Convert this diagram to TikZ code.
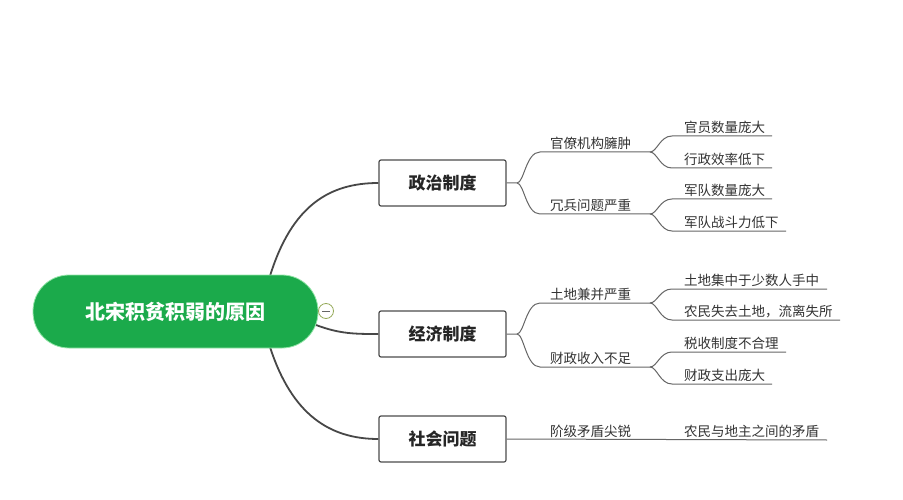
\documentclass[tikz,border=0pt]{standalone}
\usepackage{fontspec}
\setmainfont{Noto Sans CJK SC}
\begin{document}
\begin{tikzpicture}[x=1pt,y=-1pt,
  conn/.style={draw=black!72,line width=1.8pt},
  thin/.style={draw=black!60,line width=1pt},
  branch/.style={draw=black!70,line width=1.2pt,rounded corners=2pt,fill=white,minimum width=127pt,minimum height=46pt,font=\fontsize{17}{20}\selectfont\bfseries,text=black!85},
  leaf/.style={anchor=south west,inner sep=2pt,font=\fontsize{13.5}{16}\selectfont,text=black!80}]
\useasboundingbox[fill=white] (0,0) rectangle (903,500);
% connectors root to branches
\coordinate (r1) at (270,276);
\coordinate (r2) at (316,325);
\coordinate (r3) at (270,347);
\node[branch] (b1) at (442.5,183) {政治制度};
\node[branch] (b2) at (442.5,334) {经济制度};
\node[branch] (b3) at (442.5,439) {社会问题};
\draw[conn] (r1) .. controls (292,205) and (330,183) .. (b1.west);
\draw[conn] (r2) .. controls (340,334) and (355,334) .. (b2.west);
\draw[conn] (r3) .. controls (292,415) and (330,439) .. (b3.west);
\node[fill={rgb,255:red,27;green,170;blue,75},draw={rgb,255:red,150;green,230;blue,170},line width=0.8pt,rounded corners=36pt,minimum width=285pt,minimum height=73pt,text=white,font=\fontsize{20}{24}\selectfont\bfseries] (root) at (175.5,311.5) {北宋积贫积弱的原因};
\node[circle,draw={rgb,255:red,150;green,170;blue,90},fill=white,line width=0.8pt,minimum size=15pt,inner sep=0pt] (col) at (326,311) {};
\draw[black!60,line width=0.8pt] (col.center)+(-4,0) -- +(4,0);
% level 2
\node[leaf] (p1) at (548,152) {官僚机构臃肿};
\node[leaf] (p2) at (548,214) {冗兵问题严重};
\node[leaf] (e1) at (548,303) {土地兼并严重};
\node[leaf] (e2) at (548,367) {财政收入不足};
\node[leaf] (s1) at (548,440) {阶级矛盾尖锐};
% level 3
\node[leaf] (p11) at (682,136) {官员数量庞大};
\node[leaf] (p12) at (682,168) {行政效率低下};
\node[leaf] (p21) at (682,199) {军队数量庞大};
\node[leaf] (p22) at (682,231) {军队战斗力低下};
\node[leaf] (e11) at (682,289) {土地集中于少数人手中};
\node[leaf] (e12) at (682,320) {农民失去土地，流离失所};
\node[leaf] (e21) at (682,352) {税收制度不合理};
\node[leaf] (e22) at (682,384) {财政支出庞大};
\node[leaf] (s11) at (682,440) {农民与地主之间的矛盾};
% forks from branches
\foreach \b/\u/\d/\y/\ya/\yb in {b1/p1/p2/183/152/214, b2/e1/e2/334/303/367}{
  \draw[thin] (\b.east) -- (517,\y) .. controls (524,\y) and (526,\ya) .. (540,\ya) -- (650,\ya);
  \draw[thin] (517,\y) .. controls (524,\y) and (526,\yb) .. (540,\yb) -- (650,\yb);
}
\draw[thin] (b3.east) -- (827,440);
% forks level 2 to 3
\foreach \y/\ya/\xa/\yb/\xb in {152/136/772/168/772, 214/199/772/231/786, 303/289/827/320/840, 367/352/786/384/772}{
  \draw[thin] (650,\y) .. controls (657,\y) and (660,\ya) .. (672,\ya) -- (\xa,\ya);
  \draw[thin] (650,\y) .. controls (657,\y) and (660,\yb) .. (672,\yb) -- (\xb,\yb);
}
\end{tikzpicture}
\end{document}
